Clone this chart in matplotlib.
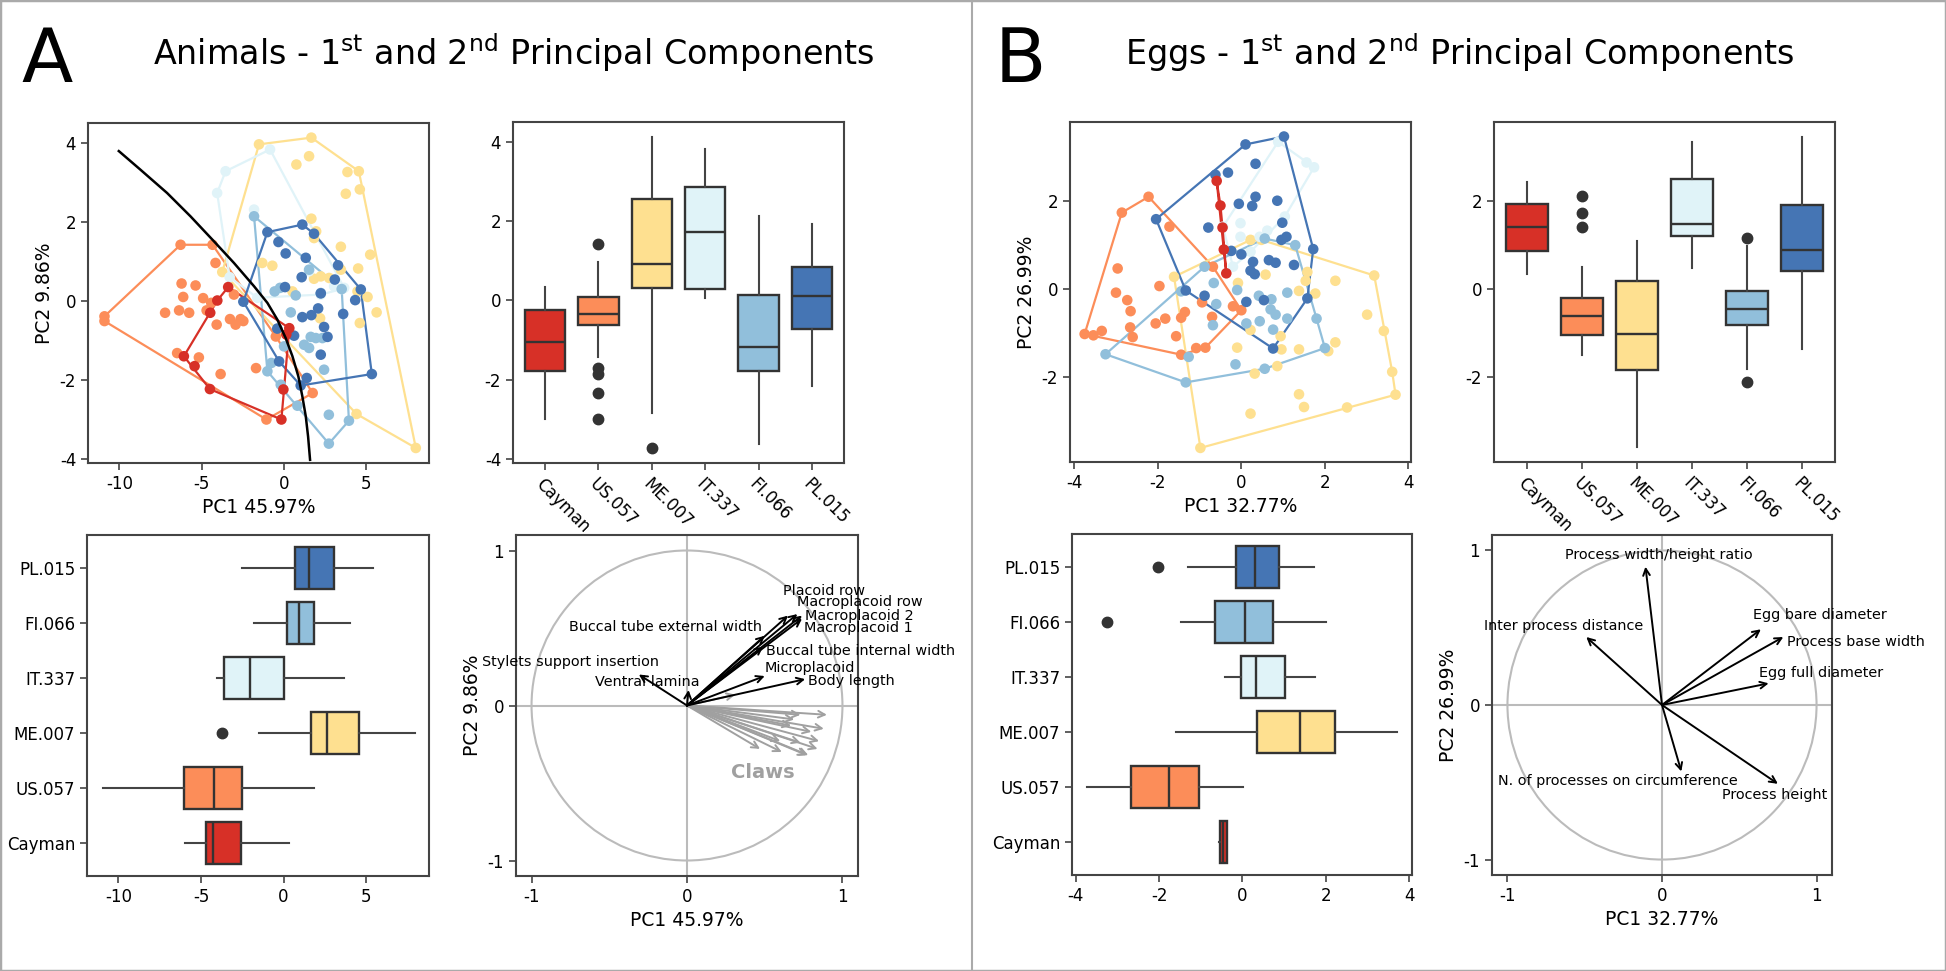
import matplotlib
matplotlib.use('Agg')
import matplotlib.pyplot as plt
from matplotlib.patches import Circle, Rectangle
from matplotlib.lines import Line2D

plt.rcParams['font.family'] = 'DejaVu Sans'
plt.rcParams['axes.unicode_minus'] = False

groups = ['Cayman', 'US.057', 'ME.007', 'IT.337', 'FI.066', 'PL.015']
colors = ['#d73027', '#fc8d59', '#fee090', '#e0f3f8', '#91bfdb', '#4575b4']

# ---- Animals: PCA scores per population (PC1, PC2) ----
a_cay_x = [-3.39, -4.05, -4.48, -6.08, -5.43, -4.50, -0.16, -0.04, 0.32, 0.14]
a_cay_y = [0.35, 0.01, -0.30, -1.40, -1.65, -2.23, -3.0, -2.24, -0.69, -0.85]
a_us_x = [-10.9, -10.9, -6.28, -4.34, 1.74, -1.07, -6.49, -4.16, -6.22, -5.37, -6.12, -4.91, -7.22, -6.37,
          -5.76, -4.70, -4.42, -4.09, -3.28, -2.94, -2.64, -2.47, -3.04, -5.17, -3.85, -1.70, -0.5]
a_us_y = [-0.39, -0.51, 1.42, 1.42, -2.33, -3.0, -1.32, 0.96, 0.44, 0.39, 0.10, 0.07, -0.30, -0.24,
          -0.30, -0.24, -0.05, -0.60, -0.46, -0.60, -0.46, -0.51, 0.16, -1.43, -1.85, -1.70, -0.9]
a_me_x = [-1.52, 1.66, 4.54, 5.23, 8.0, 4.40, -3.75, 1.52, 0.75, 3.85, 3.75, 4.60, 1.66, 1.95, 1.82,
          3.45, -1.32, -0.71, 4.50, 2.23, 1.82, 2.74, 3.45, 5.07, 5.62, 4.60, 4.46, 0.51, 2.19]
a_me_y = [3.96, 4.13, 3.28, 1.17, -3.72, -2.86, 0.73, 3.66, 3.45, 3.26, 2.71, 2.82, 2.08, 1.76, 1.59,
          1.37, 0.96, 0.89, 0.82, 0.62, 0.56, 0.58, 0.79, 0.10, -0.29, -0.56, 0.24, 0.24, -0.44]
a_it_x = [-0.85, -3.55, -4.06, -1.82, 3.65, -1.62, -3.3, 1.52, 2.23, 3.04, 3.5]
a_it_y = [3.83, 3.28, 2.73, 2.31, 0.33, 0.08, 0.6, 0.75, 0.16, 0.37, 0.3]
a_fi_x = [-1.82, 2.72, 3.94, -1.01, -0.20, 0.81, -0.57, -0.24, 0.71, 0.41, 1.62, 1.22, 1.52, 1.93,
          2.33, 2.43, 2.72, 0.0, -0.77, 1.52, 2.23, 3.5]
a_fi_y = [2.14, -3.61, -3.03, -1.78, -2.12, -2.65, 0.24, 0.33, 0.14, -0.29, -0.91, -1.11, -1.19, -0.94,
          -0.94, -1.74, -2.88, -1.15, -1.57, 0.79, 0.2, 0.3]
a_pl_x = [1.11, 1.82, 4.66, 5.33, 1.01, -0.30, -2.47, -1.01, -0.34, 0.10, 1.32, 3.28, 1.07, 0.06,
          3.08, 2.23, 4.32, 3.59, 2.07, 1.66, 1.11, 2.43, 2.64, 0.61, 2.23, 1.38, -0.41]
a_pl_y = [1.93, 1.70, 0.29, -1.85, -2.14, -1.53, -0.02, 1.74, 1.49, 1.20, 1.09, 0.90, 0.60, 0.35,
          0.54, 0.19, 0.02, -0.33, -0.19, -0.36, -0.41, -0.66, -0.91, -0.88, -1.36, -1.95, -0.70]
# separating curve drawn in black
a_curve_x = [-10.03, -8.72, -7.10, -5.68, -4.26, -3.04, -1.82, -1.01, -0.41, 0.10, 0.51, 0.87,
             1.11, 1.32, 1.46, 1.58]
a_curve_y = [3.79, 3.32, 2.73, 2.14, 1.51, 0.96, 0.37, -0.05, -0.47, -0.94, -1.40, -1.91,
             -2.41, -2.92, -3.43, -4.02]

# ---- Eggs: PCA scores per population ----
b_cay_x = [-0.59, -0.36, -0.45, -0.50, -0.42]
b_cay_y = [2.46, 0.36, 1.40, 1.90, 0.90]
b_us_x = [-2.22, -2.86, -3.75, -3.54, -3.34, -1.44, -1.08, -0.86, 0.0, -0.20, -1.72, -2.96, -1.96,
          -3.0, -2.73, -2.65, -1.82, -2.05, -2.66, -2.60, -1.56, -1.35, -1.44, -0.94, -0.70, -0.68]
b_us_y = [2.10, 1.74, -1.02, -1.05, -0.95, -1.49, -1.34, -1.33, -0.48, -0.39, 1.42, 0.47, 0.07,
          -0.08, -0.25, -0.50, -0.67, -0.78, -0.87, -1.09, -1.07, -0.52, -0.65, -0.30, -0.63, 0.51]
b_me_x = [-1.61, 0.22, 0.48, 3.18, 3.61, 3.69, 2.53, -0.98, 2.25, 1.58, 1.54, 1.38, 1.77, 0.58, -0.08,
          3.01, 3.41, 2.25, 2.08, 1.38, 0.96, 0.94, 0.22, -0.10, 0.86, 0.32, 1.38, 1.50, 0.22]
b_me_y = [0.28, 1.12, 1.12, 0.31, -1.88, -2.40, -2.69, -3.61, 0.19, 0.39, 0.19, -0.04, -0.10, 0.33, 0.14,
          -0.58, -0.95, -1.21, -1.41, -1.37, -1.37, -1.07, -0.93, -1.33, -1.75, -1.92, -2.39, -2.68, -2.83]
b_it_x = [0.88, 1.56, 1.74, -0.44, 1.04, 0.62, -0.02, -0.02, 0.22, 0.44, -0.20]
b_it_y = [3.35, 2.88, 2.77, 1.42, 1.65, 1.33, 1.50, 1.19, 0.85, 1.19, 0.51]
b_fi_x = [-3.25, -1.33, 0.56, 2.0, 1.80, 1.29, 0.56, -0.88, -0.66, -0.60, -0.68, -0.10, 0.12, 0.42,
          0.72, 0.70, 0.82, 0.44, 0.76, 1.10, 1.10, -1.26, -0.14, -1.44]
b_fi_y = [-1.48, -2.12, -1.81, -1.34, -0.67, 1.0, 1.15, 0.51, 0.14, -0.34, -0.82, -0.02, -0.78, -0.15,
          -0.23, -0.46, -0.58, -0.73, -0.92, -0.08, -0.67, -1.54, -1.71, -0.05]
b_pl_x = [0.10, 1.02, 1.72, 1.58, 0.76, -1.33, -2.04, -0.62, -0.32, 0.34, -0.06, 0.34, 0.26, 0.86, -0.79,
          0.98, 1.08, 0.96, 0.0, -0.24, 0.28, 0.66, 0.82, 1.26, 0.22, 0.32, -0.88, 0.12, 0.54]
b_pl_y = [3.29, 3.47, 0.91, -0.21, -1.35, -0.03, 1.59, 2.60, 2.65, 2.85, 1.94, 2.10, 1.89, 2.01, 1.40,
          1.51, 1.19, 1.12, 0.79, 0.87, 0.62, 0.66, 0.60, 0.55, 0.42, 0.34, -0.15, -0.29, -0.25]

# ---- box plot summaries (order = groups) ----
a2_whislo = [-3.0, -1.43, -2.85, 0.06, -3.62, -2.16]
a2_q1 = [-1.79, -0.61, 0.32, 0.29, -1.79, -0.73]
a2_med = [-1.04, -0.35, 0.93, 1.72, -1.17, 0.10]
a2_q3 = [-0.24, 0.09, 2.55, 2.87, 0.14, 0.84]
a2_whishi = [0.35, 0.96, 4.13, 3.82, 2.14, 1.94]
a2_fliers = [[], [1.43, -1.70, -1.85, -2.34, -3.0], [-3.72], [], [], []]

a1_whislo = [-5.99, -10.96, -1.49, -4.02, -1.80, -2.49]
a1_q1 = [-4.71, -6.01, 1.68, -3.61, 0.18, 0.69]
a1_med = [-4.28, -4.24, 2.60, -2.06, 0.95, 1.56]
a1_q3 = [-2.55, -2.51, 4.57, 0.01, 1.81, 3.05]
a1_whishi = [0.34, 1.81, 7.97, 3.64, 4.00, 5.39]
a1_fliers = [[], [], [-3.75], [], [], []]

b2_whislo = [0.35, -1.49, -3.60, 0.47, -1.81, -1.35]
b2_q1 = [0.87, -1.04, -1.84, 1.21, -0.82, 0.42]
b2_med = [1.41, -0.60, -1.01, 1.47, -0.45, 0.89]
b2_q3 = [1.93, -0.21, 0.18, 2.50, -0.05, 1.91]
b2_whishi = [2.44, 0.50, 1.09, 3.34, 0.99, 3.45]
b2_fliers = [[], [2.11, 1.74, 1.41], [], [], [1.17, -2.12], []]

b1_whislo = [-0.56, -3.73, -1.60, -0.42, -1.47, -1.31]
b1_q1 = [-0.53, -2.67, 0.35, -0.04, -0.65, -0.16]
b1_med = [-0.46, -1.76, 1.39, 0.32, 0.05, 0.31]
b1_q3 = [-0.37, -1.04, 2.23, 1.01, 0.73, 0.87]
b1_whishi = [-0.36, 0.01, 3.71, 1.75, 2.00, 1.71]
b1_fliers = [[], [], [], [], [-3.24], [-2.03]]

# ---- loadings ----
a_vars = ['Placoid row', 'Macroplacoid row', 'Macroplacoid 2', 'Macroplacoid 1',
          'Buccal tube external width', 'Buccal tube internal width', 'Microplacoid',
          'Body length', 'Stylets support insertion', 'Ventral lamina']
a_load_x = [0.65, 0.71, 0.74, 0.74, 0.50, 0.49, 0.50, 0.76, -0.31, 0.01]
a_load_y = [0.58, 0.59, 0.58, 0.56, 0.45, 0.38, 0.19, 0.17, 0.20, 0.10]
a_text_x = [0.62, 0.71, 0.76, 0.75, -0.76, 0.51, 0.50, 0.78, -1.32, -0.59]
a_text_y = [0.74, 0.665, 0.58, 0.50, 0.505, 0.35, 0.245, 0.16, 0.28, 0.15]
claws_x = [0.90, 0.88, 0.85, 0.84, 0.78, 0.73, 0.69, 0.67, 0.80, 0.73, 0.61, 0.60, 0.47, 0.77, 0.31]
claws_y = [-0.06, -0.15, -0.23, -0.28, -0.32, -0.06, -0.09, -0.13, -0.17, -0.24, -0.30, -0.23, -0.28, -0.32, 0.07]

b_vars = ['Process width/height ratio', 'Inter process distance', 'Egg bare diameter',
          'Process base width', 'Egg full diameter', 'N. of processes on circumference', 'Process height']
b_load_x = [-0.107, -0.49, 0.64, 0.785, 0.69, 0.125, 0.75]
b_load_y = [0.895, 0.44, 0.49, 0.44, 0.14, -0.43, -0.51]
b_text_x = [-0.628, -1.155, 0.59, 0.81, 0.63, -1.058, 0.39]
b_text_y = [0.97, 0.51, 0.58, 0.41, 0.21, -0.49, -0.58]

W, H = 1946, 971
fig = plt.figure(figsize=(W / 100, H / 100), dpi=100)
SPINE = '#444444'


def add_ax(l, t, r, b):
    return fig.add_axes([l / W, 1 - b / H, (r - l) / W, (b - t) / H])


def style(ax):
    for s in ax.spines.values():
        s.set_color(SPINE)
        s.set_linewidth(1.5)
    ax.tick_params(direction='out', length=5, width=1.2, color=SPINE, labelsize=12)


def hull(xs, ys):
    pts = sorted(set(zip(xs, ys)))
    if len(pts) < 3:
        return pts

    def cross(o, a, b):
        return (a[0] - o[0]) * (b[1] - o[1]) - (a[1] - o[1]) * (b[0] - o[0])
    lower, upper = [], []
    for p in pts:
        while len(lower) >= 2 and cross(lower[-2], lower[-1], p) <= 0:
            lower.pop()
        lower.append(p)
    for p in reversed(pts):
        while len(upper) >= 2 and cross(upper[-2], upper[-1], p) <= 0:
            upper.pop()
        upper.append(p)
    return lower[:-1] + upper[:-1]


def scatter_panel(ax, xs, ys):
    order = [1, 2, 3, 4, 5, 0]
    for i in order:
        h = hull(xs[i], ys[i])
        hx = [p[0] for p in h] + [h[0][0]]
        hy = [p[1] for p in h] + [h[0][1]]
        ax.plot(hx, hy, color=colors[i], lw=1.6, zorder=2)
        ax.scatter(xs[i], ys[i], s=58, color=colors[i], edgecolor='none', zorder=3)
    style(ax)


def box_panel(ax, lo, q1, med, q3, hi, fl, orient):
    stats = []
    for i in range(6):
        stats.append(dict(whislo=lo[i], q1=q1[i], med=med[i], q3=q3[i], whishi=hi[i], fliers=fl[i]))
    bp = ax.bxp(stats, positions=range(6), widths=0.76, patch_artist=True, showcaps=False,
                orientation=orient,
                boxprops=dict(edgecolor='#333333', linewidth=1.7),
                whiskerprops=dict(color='#444444', linewidth=1.5),
                medianprops=dict(color='#333333', linewidth=1.7),
                flierprops=dict(marker='o', markerfacecolor='#333333', markeredgecolor='#333333', markersize=7.5))
    for patch, c in zip(bp['boxes'], colors):
        patch.set_facecolor(c)
    style(ax)


def loading_panel(ax):
    ax.add_patch(Circle((0, 0), 1, fill=False, ec='#bbbbbb', lw=1.5))
    ax.axhline(0, color='#bbbbbb', lw=1.5)
    ax.axvline(0, color='#bbbbbb', lw=1.5)
    ax.set_xlim(-1.1, 1.1)
    ax.set_ylim(-1.1, 1.1)
    ax.set_xticks([-1, 0, 1])
    ax.set_yticks([-1, 0, 1])
    style(ax)


def arrow(ax, x, y, c):
    ax.annotate('', xy=(x, y), xytext=(0, 0),
                arrowprops=dict(arrowstyle='->', color=c, lw=1.4, shrinkA=0, shrinkB=0, mutation_scale=12))


# ---------------- Panel A ----------------
ax = add_ax(88, 123, 429, 463)
scatter_panel(ax, [a_cay_x, a_us_x, a_me_x, a_it_x, a_fi_x, a_pl_x],
              [a_cay_y, a_us_y, a_me_y, a_it_y, a_fi_y, a_pl_y])
ax.plot(a_curve_x, a_curve_y, color='black', lw=1.8, zorder=4)
ax.set_xlim(-11.9, 8.8)
ax.set_ylim(-4.1, 4.5)
ax.set_xticks([-10, -5, 0, 5])
ax.set_yticks([-4, -2, 0, 2, 4])
ax.set_xlabel('PC1 45.97%', fontsize=13.5)
ax.set_ylabel('PC2 9.86%', fontsize=13.5)

ax = add_ax(513, 122, 844, 463)
box_panel(ax, a2_whislo, a2_q1, a2_med, a2_q3, a2_whishi, a2_fliers, 'vertical')
ax.set_xlim(-0.6, 5.6)
ax.set_ylim(-4.1, 4.5)
ax.set_yticks([-4, -2, 0, 2, 4])
ax.set_xticks(range(6))
ax.set_xticklabels(groups, rotation=-45, ha='left', va='top', rotation_mode='anchor')

ax = add_ax(87, 535, 429, 876)
box_panel(ax, a1_whislo, a1_q1, a1_med, a1_q3, a1_whishi, a1_fliers, 'horizontal')
ax.set_ylim(-0.6, 5.6)
ax.set_xlim(-11.9, 8.8)
ax.set_xticks([-10, -5, 0, 5])
ax.set_yticks(range(6))
ax.set_yticklabels(groups)

ax = add_ax(516, 535, 858, 876)
loading_panel(ax)
for cx, cy in zip(claws_x, claws_y):
    arrow(ax, cx, cy, '#a0a0a0')
for name, x, y, tx, ty in zip(a_vars, a_load_x, a_load_y, a_text_x, a_text_y):
    arrow(ax, x, y, 'black')
    ax.text(tx, ty, name, fontsize=10.4, ha='left', va='center', clip_on=False)
ax.text(0.49, -0.43, 'Claws', fontsize=14, fontweight='bold', color='#a0a0a0', ha='center', va='center')
ax.set_xlabel('PC1 45.97%', fontsize=13.5)
ax.set_ylabel('PC2 9.86%', fontsize=13.5)

# ---------------- Panel B ----------------
ax = add_ax(1070, 122, 1411, 462)
scatter_panel(ax, [b_cay_x, b_us_x, b_me_x, b_it_x, b_fi_x, b_pl_x],
              [b_cay_y, b_us_y, b_me_y, b_it_y, b_fi_y, b_pl_y])
ax.set_xlim(-4.1, 4.06)
ax.set_ylim(-3.93, 3.8)
ax.set_xticks([-4, -2, 0, 2, 4])
ax.set_yticks([-2, 0, 2])
ax.set_xlabel('PC1 32.77%', fontsize=13.5)
ax.set_ylabel('PC2 26.99%', fontsize=13.5)

ax = add_ax(1494, 122, 1835, 462)
box_panel(ax, b2_whislo, b2_q1, b2_med, b2_q3, b2_whishi, b2_fliers, 'vertical')
ax.set_xlim(-0.6, 5.6)
ax.set_ylim(-3.93, 3.8)
ax.set_yticks([-2, 0, 2])
ax.set_xticks(range(6))
ax.set_xticklabels(groups, rotation=-45, ha='left', va='top', rotation_mode='anchor')

ax = add_ax(1072, 534, 1412, 875)
box_panel(ax, b1_whislo, b1_q1, b1_med, b1_q3, b1_whishi, b1_fliers, 'horizontal')
ax.set_ylim(-0.6, 5.6)
ax.set_xlim(-4.09, 4.07)
ax.set_xticks([-4, -2, 0, 2, 4])
ax.set_yticks(range(6))
ax.set_yticklabels(groups)

ax = add_ax(1492, 535, 1832, 875)
loading_panel(ax)
for name, x, y, tx, ty in zip(b_vars, b_load_x, b_load_y, b_text_x, b_text_y):
    arrow(ax, x, y, 'black')
    ax.text(tx, ty, name, fontsize=10.4, ha='left', va='center', clip_on=False)
ax.set_xlabel('PC1 32.77%', fontsize=13.5)
ax.set_ylabel('PC2 26.99%', fontsize=13.5)

# titles, panel letters and frame
fig.text(47 / W, 1 - 82 / H, 'A', fontsize=54, ha='center', va='baseline')
fig.text(1020 / W, 1 - 82 / H, 'B', fontsize=54, ha='center', va='baseline')
fig.text(514 / W, 1 - 65 / H, r'Animals - 1$^{\mathrm{st}}$ and 2$^{\mathrm{nd}}$ Principal Components',
         fontsize=24, ha='center', va='baseline')
fig.text(1460 / W, 1 - 65 / H, r'Eggs - 1$^{\mathrm{st}}$ and 2$^{\mathrm{nd}}$ Principal Components',
         fontsize=24, ha='center', va='baseline')
fig.add_artist(Line2D([972 / W, 972 / W], [0, 1], color='#aaaaaa', lw=1.5, transform=fig.transFigure))
fig.add_artist(Rectangle((0, 0), 1, 1, fill=False, ec='#aaaaaa', lw=2.5, transform=fig.transFigure))

fig.savefig('out.png', dpi=100, facecolor='white')
